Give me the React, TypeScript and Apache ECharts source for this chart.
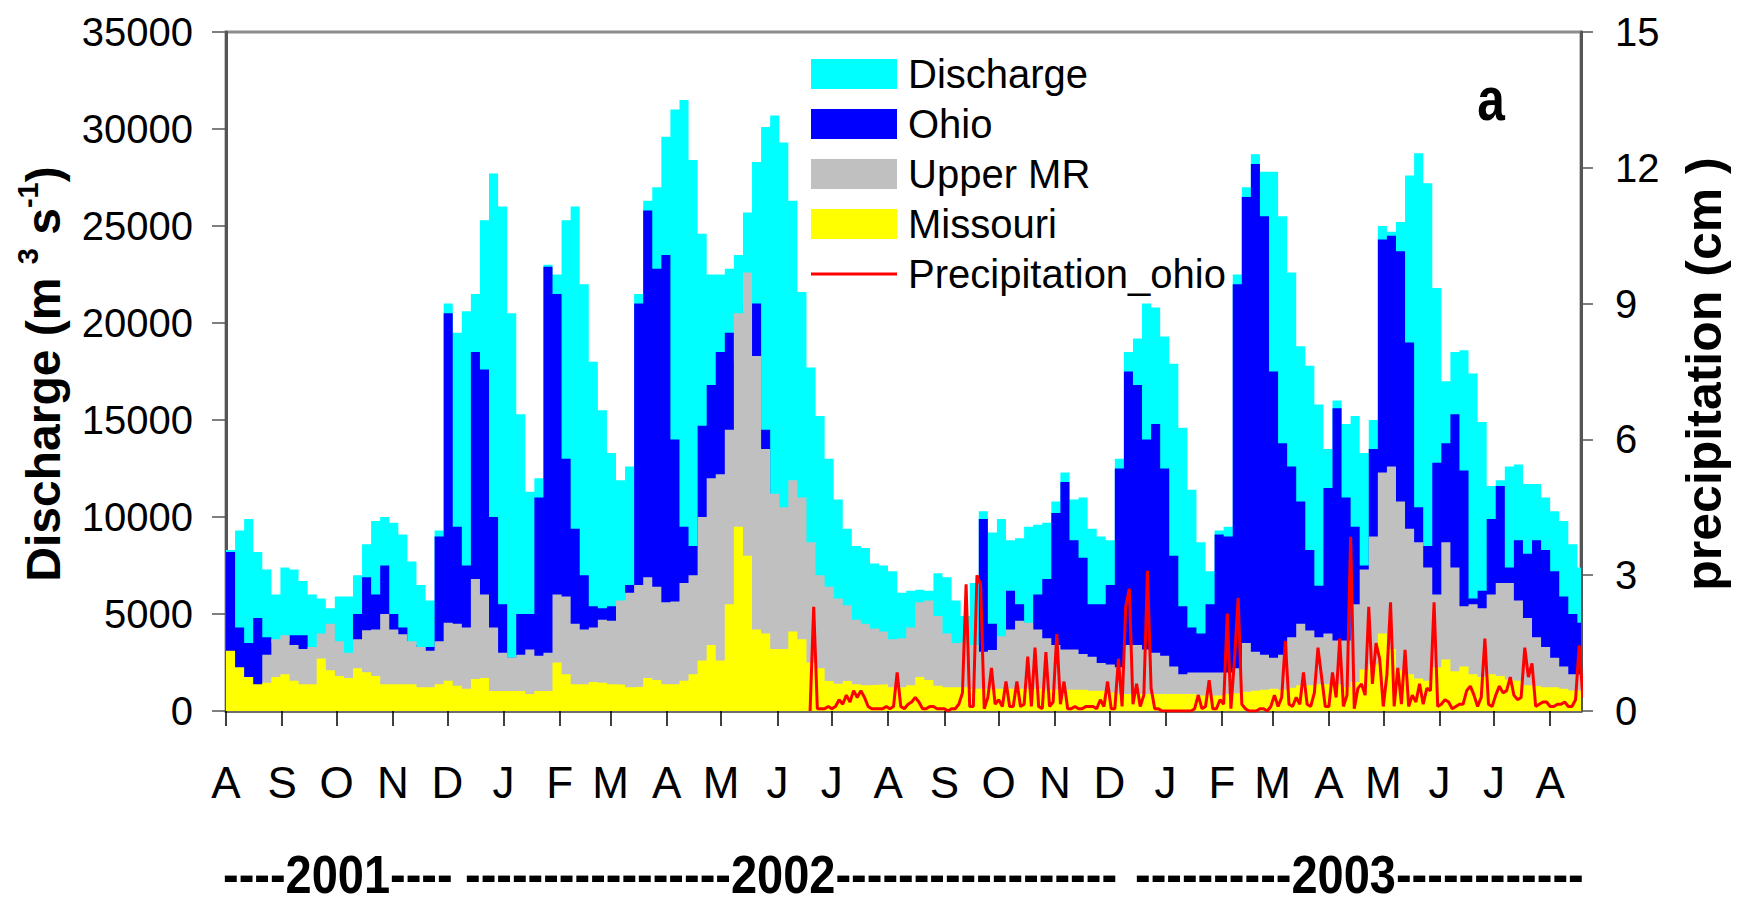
import React, { useEffect, useRef } from "react";
import * as echarts from "echarts";

// ---------- data ----------
const START_UTC = Date.UTC(2001, 7, 1); // 1 Aug 2001
const DAY_MS = 86400000;
const END_DAY = 747; // ~18 Aug 2003
const FLOW_STEP_DAYS = 5;
const PRECIP_START_DAY = 322;
const PRECIP_STEP_DAYS = 2;

const monthLetters = ["J", "F", "M", "A", "M", "J", "J", "A", "S", "O", "N", "D"];
const yearLabels = [
  "----2001----",
  "-----------------2002------------------",
  "----------2003------------",
];

// Discharge (m3/s), one value per 5 days from 1 Aug 2001
const discharge = [
  8300, 9300, 9900, 8200, 7300, 6000, 7400, 7300, 6700, 6000,
  5800, 5300, 5900, 5900, 7000, 8600, 9800, 10000, 9700, 9100,
  7700, 6500, 5700, 9300, 21000, 19500, 20600, 21500, 25300, 27700,
  26000, 20500, 15300, 11300, 12000, 23000, 22500, 25300, 26000, 22000,
  18000, 15500, 13300, 11900, 12600, 21500, 26300, 27000, 29600, 31000,
  31500, 28400, 24600, 22500, 22500, 22800, 23500, 25700, 28300, 30100,
  30700, 29300, 26300, 21600, 17700, 15200, 13000, 10900, 9400, 8500,
  8400, 7600, 7500, 7200, 6100, 6200, 6250, 6200, 7100, 6900,
  5700, 4900, 6600, 10300, 9200, 9900, 8800, 8900, 9500, 9600,
  9700, 10800, 12300, 10900, 11000, 9400, 9000, 8800, 13000, 18500,
  19200, 21000, 20800, 19300, 17900, 14600, 11400, 8700, 7200, 9300,
  9500, 22500, 27000, 28700, 27800, 27800, 25500, 22600, 18800, 17800,
  15800, 13500, 16000, 14800, 15200, 13300, 15000, 25000, 24700, 25200,
  27600, 28750, 27200, 21800, 17000, 18500, 18600, 17400, 14900, 11600,
  11900, 12600, 12700, 11700, 11700, 11000, 10300, 9800, 8600, 7400,
  7400,
];

const ohio = [
  8200, 4300, 3500, 4800, 3800, 3500, 3600, 3900, 3900, 2800,
  2700, 2700, 2800, 2800, 5000, 6900, 6000, 7500, 5000, 4300,
  3400, 3000, 3300, 9000, 20500, 9500, 7500, 18500, 17600, 10000,
  5500, 2750, 5000, 5000, 11000, 22900, 21500, 13000, 9400, 7000,
  5400, 5300, 5400, 4800, 6500, 21000, 25800, 22800, 23500, 14000,
  9500, 8500, 14700, 16800, 18500, 19500, 18000, 21000, 21000, 14500,
  9000, 8000, 7500, 7000, 6000, 5000, 4500, 4000, 3800, 3500,
  3300, 3000, 2800, 2600, 2600, 2700, 2800, 2700, 2600, 2500,
  2400, 2300, 3000, 9900, 4500, 3800, 6200, 5500, 4000, 6000,
  6800, 10200, 11800, 8800, 7900, 5500, 5500, 6500, 12500, 17500,
  16800, 14000, 14800, 12500, 8000, 5400, 4300, 4000, 5500, 9100,
  9000, 22000, 26500, 28200, 25500, 17500, 13800, 12600, 10800, 8300,
  6450, 11500, 15600, 11000, 9500, 7500, 13500, 24300, 24500, 23700,
  19000, 10500, 8500, 12800, 13800, 15300, 12400, 5800, 6200, 9900,
  11600, 7400, 8800, 8100, 8800, 8300, 7200, 5900, 5000, 4550,
  4550,
];

const upperMR = [
  null, null, null, null, 2900, 3700, 3900, 3400, 3200, 3300,
  4000, 4500, 3600, 3000, 3700, 4160, 4200, 5000, 4200, 3950,
  3600, 3300, 3100, 3600, 4550, 4500, 4300, 6800, 6000, 4300,
  3000, 2760, 2900, 3170, 2850, 3000, 6000, 5900, 4500, 4200,
  4300, 4700, 4650, 5700, 6100, 6500, 6900, 6400, 5600, 5650,
  6600, 7000, 10000, 12000, 12200, 14500, 20500, 22600, 18300, 13500,
  11200, 10500, 11900, 11000, 8700, 7000, 6400, 5800, 5450, 4700,
  4500, 4250, 4100, 3700, 3750, 4300, 5600, 5700, 4900, 4000,
  3500, 3550, 3400, 3050, 3150, 3850, 4200, 4650, 4550, 4200,
  3750, 3400, 3170, 3170, 2940, 2800, 2480, 2400, 2250, 3400,
  3400, 3170, 3000, 2850, 2300, 1900, 1980, 1980, 1980, 1980,
  1980, 2200, 3500, 3050, 2900, 2750, 2900, 3800, 4500, 4150,
  3800, 4000, 3630, 3630, 5500, 7300, 9000, 12300, 12600, 10800,
  9400, 8700, 7400, 6000, 8700, 7400, 5400, 5500, 5300, 6000,
  6600, 6600, 5700, 4800, 3800, 3300, 2750, 2300, 1900, 1900,
  1900,
];

const missouri = [
  3100, 2250, 1750, 1380, 1450, 1750, 1900, 1560, 1380, 1380,
  2700, 2100, 1800, 1700, 2200, 2000, 1800, 1380, 1380, 1380,
  1380, 1220, 1220, 1380, 1560, 1300, 1150, 1650, 1700, 1030,
  1030, 1030, 1030, 870, 1030, 1030, 2500, 1900, 1380, 1380,
  1500, 1450, 1380, 1350, 1220, 1250, 1700, 1600, 1380, 1380,
  1560, 1900, 2600, 3400, 2600, 5500, 9500, 8000, 4200, 4000,
  3200, 3200, 4100, 3700, 2500, 2200, 1550, 1400, 1550, 1380,
  1330, 1350, 1380, 1220, 1220, 1330, 1750, 1600, 1300, 1220,
  1220, 1220, 1150, 1150, 1150, 1150, 1150, 1150, 1150, 1150,
  1100, 1100, 1100, 1100, 1100, 1050, 1050, 950, 870, 870,
  870, 870, 870, 870, 870, 870, 870, 800, 800, 800,
  870, 920, 990, 1050, 1100, 1150, 1100, 1200, 1330, 1330,
  1380, 1380, 1380, 1220, 1500, 2140, 2400, 4000, 3200, 2100,
  1900, 1680, 1560, 2250, 2650, 2050, 2300, 1900, 1750, 1900,
  1800, 1620, 1560, 1330, 1290, 1220, 1220, 1150, 1060, 1060,
  1060,
];

// Precipitation over the Ohio basin (cm), one value per 2 days from day 322
const precipitationOhio = [
  0, 2.3, 0.05, 0.05, 0.05, 0.1, 0.05, 0.1, 0.25, 0.15,
  0.35, 0.2, 0.45, 0.3, 0.45, 0.3, 0.1, 0.05, 0.05, 0.05,
  0.05, 0.1, 0.05, 0.1, 0.85, 0.1, 0.05, 0.15, 0.2, 0.3,
  0.2, 0.05, 0.05, 0.1, 0.1, 0.05, 0.05, 0.05, 0, 0.05,
  0.05, 0.15, 0.4, 2.8, 0.1, 0.1, 3.0, 2.8, 0.05, 0.3,
  0.95, 0.15, 0.25, 0.1, 0.65, 0.1, 0.1, 0.65, 0.1, 0.15,
  1.2, 0.1, 1.4, 0.1, 0.05, 1.3, 0.1, 0.2, 1.7, 0.15,
  0.65, 0.05, 0.05, 0.1, 0.05, 0.05, 0.1, 0.1, 0.1, 0.05,
  0.25, 0.1, 0.65, 0.05, 0.05, 1.15, 0.1, 2.3, 2.7, 0.15,
  0.6, 0.1, 0.35, 3.1, 0.5, 0.05, 0.05, 0, 0, 0,
  0, 0, 0, 0, 0, 0, 0.05, 0.35, 0.05, 0.1,
  0.68, 0.05, 0.05, 0.25, 0.15, 2.15, 0.05, 1.15, 2.5, 0.15,
  0.05, 0, 0, 0, 0.05, 0.05, 0, 0.1, 0.35, 0.1,
  0.3, 1.55, 0.15, 0.1, 0.3, 0.15, 0.85, 0.15, 0.1, 0.4,
  1.4, 0.75, 0.1, 0.1, 0.85, 0.3, 1.6, 0.1, 0.35, 3.85,
  0.05, 0.5, 0.6, 0.35, 2.3, 0.6, 1.5, 1.15, 0.1, 0.8,
  2.4, 0.1, 0.95, 0.15, 1.35, 0.1, 0.35, 0.2, 0.6, 0.15,
  0.5, 0.45, 2.4, 0.1, 0.15, 0.25, 0.2, 0.05, 0.1, 0.15,
  0.15, 0.45, 0.55, 0.35, 0.1, 0.3, 1.6, 0.15, 0.1, 0.35,
  0.55, 0.4, 0.45, 0.75, 0.35, 0.25, 0.3, 1.4, 0.75, 1.05,
  0.1, 0.15, 0.2, 0.2, 0.1, 0.1, 0.15, 0.15, 0.2, 0.1,
  0.1, 0.25, 1.45, 0.3,
];

// ---------- helpers ----------
const FONT = "'Liberation Sans', Arial, sans-serif";

function monthStartDays(): number[] {
  const out: number[] = [];
  let y = 2001;
  let m = 7;
  while (true) {
    const d = Math.round((Date.UTC(y, m, 1) - START_UTC) / DAY_MS);
    if (d > END_DAY) break;
    out.push(d);
    m++;
    if (m > 11) {
      m = 0;
      y++;
    }
  }
  return out;
}

function monthLetter(v: number): string {
  const dt = new Date(START_UTC + Math.round(v) * DAY_MS);
  return monthLetters[dt.getUTCMonth()];
}

const flowPairs = (arr: (number | null)[]) => arr.map((v, i) => [i * FLOW_STEP_DAYS, v]);
const precipPairs = precipitationOhio.map((v, i) => [PRECIP_START_DAY + i * PRECIP_STEP_DAYS, v]);

function areaSeries(name: string, color: string, arr: (number | null)[]) {
  return {
    name,
    type: "line",
    step: "end",
    data: flowPairs(arr),
    symbol: "none",
    showSymbol: false,
    color,
    itemStyle: { color },
    lineStyle: { width: 0, color },
    areaStyle: { color, opacity: 1 },
    silent: true,
    connectNulls: false,
  };
}

export default function App() {
  const ref = useRef<HTMLDivElement>(null);

  useEffect(() => {
    if (!ref.current) return;
    const chart = echarts.init(ref.current, undefined, { renderer: "svg" });
    const months = monthStartDays();

    const boldText = (text: string, x: number, y: number, size: number, sx: number, align = "left", rotation = 0) => ({
      type: "text",
      x,
      y,
      rotation,
      scaleX: sx,
      style: { text, align, verticalAlign: "middle", fill: "#000", font: `bold ${size}px ${FONT}` },
    });

    const option: any = {
      animation: false,
      backgroundColor: "#ffffff",
      grid: {
        left: 226,
        top: 32,
        right: 164,
        bottom: 196,
        show: true,
        borderColor: "#8c8c8c",
        borderWidth: 3,
        containLabel: false,
        outerBoundsMode: "none",
      },
      legend: {
        orient: "vertical",
        left: 811,
        top: 54,
        padding: 0,
        itemWidth: 86,
        itemHeight: 30,
        itemGap: 10,
        selectedMode: false,
        textStyle: { fontFamily: FONT, fontSize: 40, color: "#000", padding: [0, 0, 0, 6] },
        data: [
          { name: "Discharge", icon: "rect" },
          { name: "Ohio", icon: "rect" },
          { name: "Upper MR", icon: "rect" },
          { name: "Missouri", icon: "rect" },
          { name: "Precipitation_ohio", icon: "path://M0 0H86V3H0Z", itemStyle: { color: "#ff0000", borderWidth: 0 } },
        ],
      },
      xAxis: {
        type: "value",
        min: 0,
        max: END_DAY,
        axisLine: { show: true, onZero: false, lineStyle: { color: "#6e6e6e", width: 3 } },
        axisTick: { show: true, customValues: months, length: 15, inside: false, lineStyle: { color: "#000", width: 1.5 } },
        axisLabel: {
          show: true,
          customValues: months,
          formatter: (v: number) => monthLetter(v),
          fontFamily: FONT,
          fontSize: 44,
          color: "#000",
          margin: 49,
        },
        splitLine: { show: false },
      },
      yAxis: [
        {
          type: "value",
          min: 0,
          max: 35000,
          interval: 5000,
          position: "left",
          axisLine: { show: true, lineStyle: { color: "#555", width: 3 } },
          axisTick: { show: true, length: 14, lineStyle: { color: "#555", width: 1.5 } },
          axisLabel: { fontFamily: FONT, fontSize: 40, color: "#000", margin: 33, formatter: (v: number) => String(v) },
          splitLine: { show: false },
        },
        {
          type: "value",
          min: 0,
          max: 15,
          interval: 3,
          position: "right",
          axisLine: { show: true, lineStyle: { color: "#555", width: 3 } },
          axisTick: { show: true, length: 12, lineStyle: { color: "#555", width: 1.5 } },
          axisLabel: { fontFamily: FONT, fontSize: 40, color: "#000", margin: 34, formatter: (v: number) => String(v) },
          splitLine: { show: false },
        },
      ],
      graphic: [
        {
          type: "text",
          x: 43,
          y: 374,
          rotation: Math.PI / 2,
          style: {
            text: "{m|Discharge (m }{s|3}{m| s}{s|-1}{m|)}",
            align: "center",
            verticalAlign: "middle",
            fill: "#000",
            rich: {
              m: { fontFamily: FONT, fontWeight: "bold", fontSize: 48, lineHeight: 60, fill: "#000" },
              s: { fontFamily: FONT, fontWeight: "bold", fontSize: 29, verticalAlign: "top", fill: "#000" },
            },
          },
        },
        boldText("precipitation (cm )", 1704, 374, 50, 1, "center", Math.PI / 2),
        boldText("a", 1491, 98, 62, 0.8, "center"),
        boldText(yearLabels[0], 223, 874, 54, 0.87),
        boldText(yearLabels[1], 465, 874, 54, 0.87),
        boldText(yearLabels[2], 1135, 874, 54, 0.87),
      ],
      series: [
        areaSeries("Discharge", "#00ffff", discharge),
        areaSeries("Ohio", "#0000ff", ohio),
        areaSeries("Upper MR", "#c0c0c0", upperMR),
        areaSeries("Missouri", "#ffff00", missouri),
        {
          name: "Precipitation_ohio",
          type: "line",
          yAxisIndex: 1,
          data: precipPairs,
          symbol: "none",
          showSymbol: false,
          color: "#ff0000",
          itemStyle: { color: "#ff0000" },
          lineStyle: { color: "#ff0000", width: 3 },
          silent: true,
          z: 5,
        },
      ],
    };

    chart.setOption(option);
    return () => {
      chart.dispose();
    };
  }, []);

  return (
    <div
      ref={ref}
      style={{ position: "fixed", left: 0, top: 0, width: 1745, height: 907, background: "#fff" }}
    />
  );
}
